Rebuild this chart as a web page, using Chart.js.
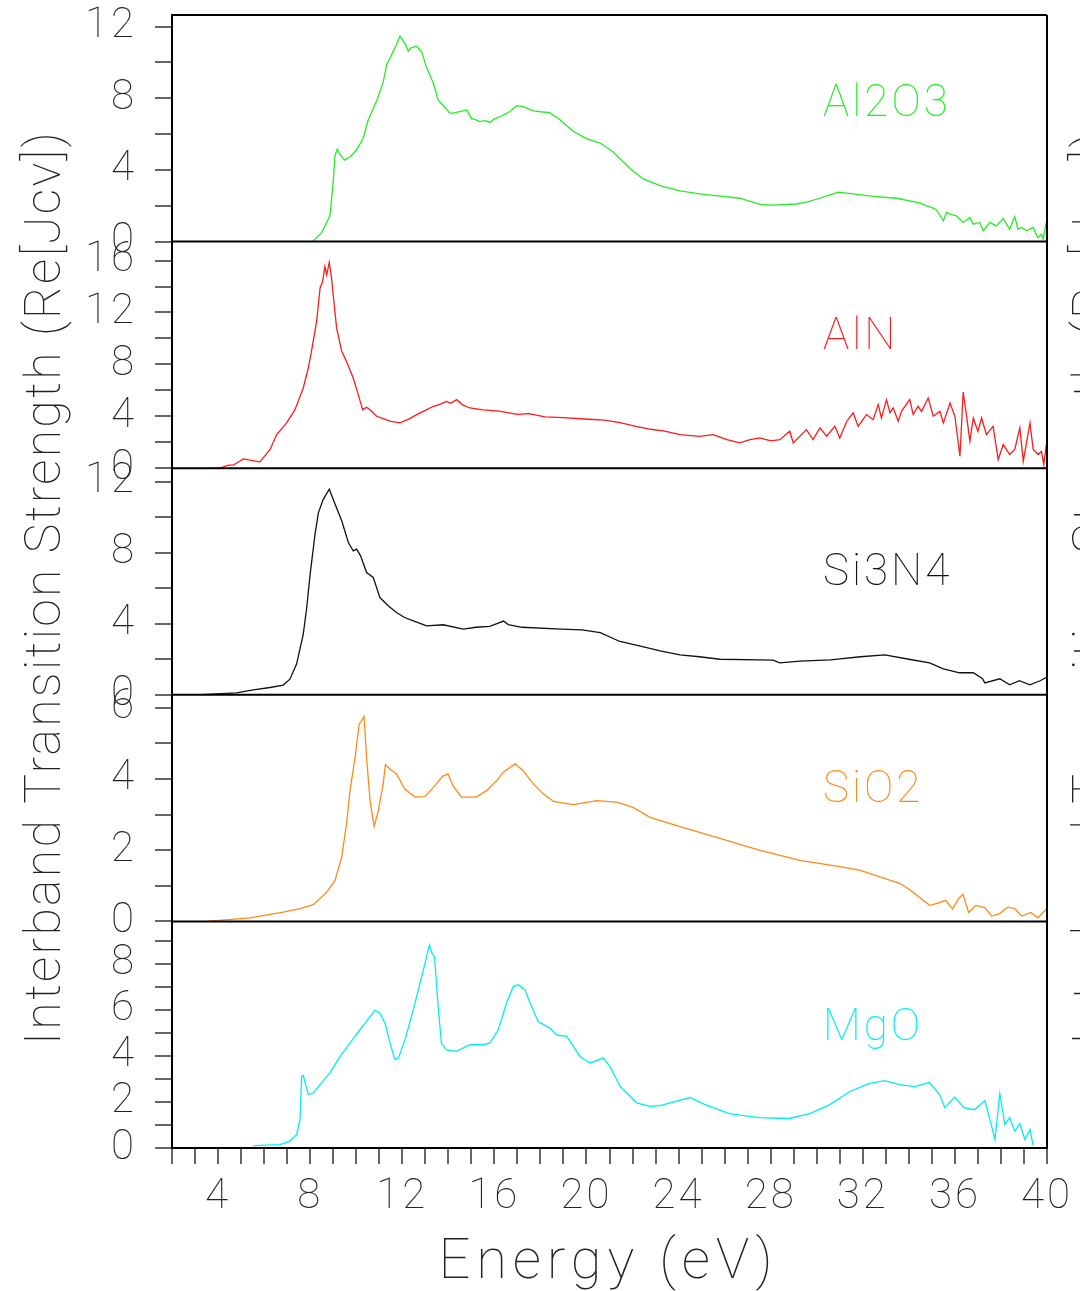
<!DOCTYPE html>
<html>
<head>
<meta charset="utf-8">
<script src="https://cdn.jsdelivr.net/npm/chart.js@4"></script>
<style>
  html, body { margin: 0; padding: 0; background: #fff; }
</style>
</head>
<body>
<canvas id="spectra" width="1080" height="1291"></canvas>
<script>
// Interband transition strength, Re[Jcv], vs photon energy (eV)
// pairs are [energy, strength]
const al2o3 = [[5.3,0],[8.1,0],[8.5,0.5],[8.86,1.46],[9.0,3.3],[9.08,4.8],[9.18,5.16],[9.3,4.85],[9.5,4.55],[9.75,4.75],[10.0,5.1],[10.3,5.75],[10.5,6.7],[10.7,7.3],[10.9,7.9],[11.17,8.9],[11.33,9.9],[11.45,10.2],[11.6,10.6],[11.75,11.0],[11.9,11.47],[12.04,11.2],[12.15,11.0],[12.26,10.63],[12.37,10.8],[12.48,10.85],[12.62,10.9],[12.73,10.75],[12.84,10.6],[13.06,9.7],[13.35,8.85],[13.56,7.9],[13.85,7.5],[14.07,7.16],[14.3,7.2],[14.5,7.26],[14.8,7.35],[15.0,6.88],[15.2,6.8],[15.37,6.7],[15.6,6.75],[15.8,6.65],[16.0,6.85],[16.24,6.97],[16.45,7.1],[16.68,7.26],[16.97,7.59],[17.26,7.54],[17.5,7.4],[17.69,7.3],[18.0,7.25],[18.4,7.2],[18.85,6.8],[19.4,6.17],[20.0,5.75],[20.6,5.5],[21.16,5.0],[21.9,4.07],[22.46,3.5],[23.2,3.13],[24.06,2.83],[25.0,2.65],[25.94,2.53],[26.66,2.42],[27.53,2.08],[28.1,2.04],[29.1,2.1],[29.6,2.22],[30.14,2.42],[30.6,2.62],[30.93,2.76],[31.58,2.66],[32.45,2.53],[33.46,2.42],[34.19,2.23],[34.5,2.15],[34.77,2.0],[35.0,1.9],[35.2,1.78],[35.5,1.16],[35.64,1.63],[35.85,1.5],[36.07,1.44],[36.36,1.07],[36.65,1.35],[36.8,0.97],[37.08,1.07],[37.23,0.6],[37.52,1.07],[37.8,0.88],[38.1,1.29],[38.38,0.69],[38.6,1.4],[38.74,0.69],[38.9,0.8],[39.1,0.6],[39.4,0.79],[39.6,0.22],[39.76,0.41],[39.83,0.13],[39.97,1.07]];

const aln = [[3.6,0],[4.08,0],[4.45,0.23],[4.66,0.23],[5.1,0.72],[5.39,0.62],[5.82,0.49],[6.26,1.44],[6.55,2.59],[6.98,3.49],[7.34,4.51],[7.7,6.18],[7.92,7.72],[8.07,9.13],[8.28,11.3],[8.43,13.87],[8.54,14.38],[8.64,15.54],[8.72,14.9],[8.83,15.87],[8.93,14.64],[9.0,13.36],[9.15,10.8],[9.37,9.0],[9.58,8.23],[9.87,6.95],[10.09,5.67],[10.28,4.51],[10.45,4.7],[10.6,4.5],[10.89,4.0],[11.2,3.8],[11.47,3.62],[11.9,3.49],[12.3,3.8],[12.63,4.13],[13.0,4.45],[13.35,4.77],[13.6,4.9],[13.92,5.15],[14.1,5.0],[14.36,5.28],[14.6,4.9],[14.94,4.64],[15.5,4.5],[16.2,4.4],[17.0,4.15],[17.5,4.2],[18.2,3.95],[19.0,3.9],[20.1,3.77],[20.8,3.7],[21.5,3.5],[22.2,3.2],[22.8,3.0],[23.4,2.85],[24.06,2.59],[24.9,2.46],[25.5,2.59],[26.1,2.2],[26.66,1.95],[27.1,2.2],[27.53,2.33],[28.0,2.1],[28.4,2.2],[28.83,2.85],[28.98,1.95],[29.55,2.97],[29.84,2.2],[30.14,3.1],[30.43,2.46],[30.79,3.23],[31.0,2.33],[31.3,3.6],[31.58,4.26],[31.8,3.23],[32.16,4.13],[32.45,3.74],[32.67,4.9],[32.81,3.87],[33.03,5.28],[33.18,4.26],[33.32,4.64],[33.54,3.62],[33.68,4.38],[34.04,5.28],[34.19,4.13],[34.4,4.77],[34.55,4.38],[34.84,5.41],[35.06,4.0],[35.35,4.38],[35.5,3.49],[35.79,5.03],[36.0,4.0],[36.22,0.92],[36.36,5.87],[36.5,4.13],[36.65,2.08],[36.8,3.87],[37.0,2.85],[37.16,3.87],[37.37,2.59],[37.66,3.23],[37.88,0.67],[38.1,1.82],[38.38,1.05],[38.6,1.44],[38.82,3.1],[38.97,0.54],[39.26,3.49],[39.4,1.44],[39.62,1.05],[39.76,1.3],[39.86,0.28],[39.97,1.82]];

const si3n4 = [[3.07,0],[4.8,0.11],[5.53,0.28],[6.26,0.41],[6.83,0.55],[7.12,0.88],[7.41,1.73],[7.7,3.4],[7.85,4.9],[8.0,6.79],[8.21,9.03],[8.36,10.25],[8.57,11.0],[8.83,11.57],[9.08,10.73],[9.37,9.79],[9.66,8.57],[9.87,8.1],[10.02,8.2],[10.19,7.82],[10.45,6.88],[10.74,6.6],[11.03,5.47],[11.4,5.0],[11.75,4.63],[12.1,4.35],[12.48,4.16],[13.06,3.88],[13.78,3.94],[14.65,3.7],[15.2,3.8],[15.8,3.85],[16.4,4.15],[16.6,3.95],[17.2,3.8],[18.9,3.7],[19.8,3.65],[20.6,3.5],[21.45,3.0],[22.3,2.75],[23.2,2.47],[24.06,2.25],[24.9,2.14],[25.8,2.0],[27.5,1.97],[28.1,1.95],[28.4,1.8],[29.27,1.9],[30.6,1.97],[31.9,2.14],[32.96,2.25],[34.0,2.0],[34.9,1.8],[35.5,1.46],[36.2,1.24],[36.8,1.24],[37.2,0.9],[37.3,0.67],[37.95,0.9],[38.38,0.56],[38.8,0.79],[39.26,0.56],[39.7,0.79],[40.0,1.0]];

const sio2 = [[3.5,0],[5.39,0.1],[6.83,0.26],[7.56,0.36],[8.14,0.47],[8.72,0.82],[9.08,1.15],[9.37,1.8],[9.58,2.74],[9.73,3.67],[9.95,4.6],[10.13,5.54],[10.2,5.59],[10.34,5.75],[10.45,4.6],[10.6,3.39],[10.78,2.66],[10.96,3.11],[11.17,3.86],[11.27,4.4],[11.46,4.28],[11.75,4.14],[12.1,3.72],[12.55,3.49],[12.98,3.5],[13.42,3.81],[13.75,4.07],[13.99,4.14],[14.2,3.81],[14.57,3.49],[15.22,3.49],[15.66,3.67],[16.1,3.95],[16.39,4.19],[16.9,4.42],[17.25,4.23],[17.69,3.86],[18.12,3.58],[18.56,3.37],[19.43,3.28],[20.44,3.39],[21.31,3.35],[22.03,3.2],[22.76,2.92],[24.06,2.66],[25.8,2.33],[27.5,2.0],[29.27,1.71],[31.0,1.54],[31.9,1.43],[32.7,1.26],[33.6,1.07],[33.9,0.95],[34.26,0.78],[34.6,0.6],[34.9,0.45],[35.2,0.5],[35.6,0.59],[35.9,0.35],[36.2,0.67],[36.35,0.76],[36.6,0.25],[36.9,0.45],[37.3,0.39],[37.6,0.15],[37.95,0.22],[38.3,0.4],[38.6,0.36],[38.9,0.15],[39.3,0.25],[39.6,0.1],[40.0,0.36]];

const mgo = [[5.53,0.1],[6.69,0.15],[7.12,0.3],[7.41,0.58],[7.56,1.23],[7.63,3.11],[7.7,3.14],[7.92,2.32],[8.14,2.39],[8.43,2.75],[8.86,3.26],[9.3,3.97],[9.73,4.55],[10.16,5.13],[10.45,5.49],[10.81,5.97],[11.03,5.85],[11.25,5.42],[11.47,4.55],[11.68,3.83],[11.83,3.9],[12.12,4.7],[12.48,6.0],[12.77,7.15],[12.99,8.02],[13.18,8.81],[13.29,8.45],[13.4,8.3],[13.56,6.14],[13.7,4.55],[13.92,4.26],[14.35,4.19],[14.94,4.48],[15.5,4.48],[15.8,4.55],[16.17,5.13],[16.53,6.29],[16.82,7.0],[17.04,7.08],[17.33,6.86],[17.55,6.29],[17.9,5.49],[18.41,5.2],[18.7,4.91],[19.14,4.84],[19.72,3.97],[20.15,3.69],[20.73,3.9],[21.02,3.54],[21.45,2.68],[22.18,1.96],[22.76,1.81],[23.2,1.84],[24.5,2.19],[25.1,1.9],[26.2,1.49],[27.5,1.32],[28.8,1.28],[29.7,1.49],[30.57,1.88],[31.44,2.45],[32.3,2.8],[32.96,2.92],[33.6,2.75],[34.25,2.66],[34.9,2.84],[35.35,2.3],[35.56,1.75],[35.99,2.2],[36.4,1.75],[36.85,1.66],[37.3,2.05],[37.52,1.23],[37.74,0.37],[37.95,2.36],[38.17,1.02],[38.38,1.32],[38.6,0.72],[38.82,1.06],[39.04,0.37],[39.26,0.8],[39.4,0.1]];

const materials = ['Al2O3', 'AlN', 'Si3N4', 'SiO2', 'MgO'];
const curves = [al2o3, aln, si3n4, sio2, mgo];
const lineColors = ['#22ee22', '#ff1a1a', '#111111', '#ff8a1a', '#00eeee'];
const panelMax = [12.65, 17.46, 12.75, 6.36, 9.83];
const tickStep = [2, 2, 2, 1, 1];
const labelEvery = [4, 4, 4, 2, 2];
// where each material name sits, in (eV, strength) of its own panel
const nameEnergy = 30.27;
const nameLevel = [7.0, 9.2, 6.2, 3.35, 4.7];

const energyMin = 2, energyMax = 40, energyLabelEvery = 4;
const xTitle = 'Energy (eV)';
const yTitle = 'Interband Transition Strength (Re[Jcv])';

const FONT = 'Roboto, "DejaVu Sans", sans-serif';
const WEIGHT = 100;
const TEXT = '#222';

const panelIds = materials.map((m, i) => 'p' + i);

const datasets = curves.map((pts, i) => ({
  label: materials[i],
  data: pts.map(p => ({ x: p[0], y: p[1] })),
  xAxisID: 'x',
  yAxisID: panelIds[i],
  borderColor: lineColors[i],
  borderWidth: 1.3,
  pointRadius: 0,
  tension: 0,
  fill: false
}));

const scales = {
  x: {
    type: 'linear',
    position: 'bottom',
    min: energyMin,
    max: energyMax,
    ticks: {
      stepSize: 1,
      autoSkip: false,
      maxRotation: 0,
      minRotation: 0,
      padding: 8,
      color: TEXT,
      font: { family: FONT, size: 42, weight: WEIGHT },
      callback: v => (v % energyLabelEvery === 0 ? v : '')
    },
    grid: { drawOnChartArea: false, drawTicks: true, tickLength: 16, color: '#666', lineWidth: 2 },
    border: { display: true, color: '#000', width: 2 },
    afterFit: s => { s.height = 143; s.paddingLeft = 0; s.paddingRight = 0; }
  }
};

panelIds.forEach((id, i) => {
  scales[id] = {
    type: 'linear',
    position: 'left',
    stack: 'panels',
    stackWeight: 1,
    weight: panelIds.length - i,
    min: 0,
    max: panelMax[i],
    ticks: {
      stepSize: tickStep[i],
      autoSkip: false,
      includeBounds: false,
      padding: 18,
      color: TEXT,
      font: { family: FONT, size: 42, weight: WEIGHT },
      callback: v => (v % labelEvery[i] === 0 ? v : '')
    },
    grid: { drawOnChartArea: false, drawTicks: true, tickLength: 17, color: '#666', lineWidth: 2 },
    border: { display: true, color: '#000', width: 2 },
    afterFit: s => { s.width = 172; s.paddingTop = 0; s.paddingBottom = 0; }
  };
});

// stretch a string over a given length by spacing its letters
function setSpread(ctx, text, size, span) {
  ctx.font = `${WEIGHT} ${size}px ${FONT}`;
  ctx.letterSpacing = '0px';
  const w = ctx.measureText(text).width;
  ctx.letterSpacing = ((span - w) / text.length) + 'px';
}

const decorations = {
  id: 'decorations',
  beforeDraw(chart) {
    const ctx = chart.ctx;
    ctx.save();
    ctx.fillStyle = '#fff';
    ctx.fillRect(0, 0, chart.width, chart.height);
    ctx.restore();
    ctx.letterSpacing = '3px';
  },
  afterDatasetsDraw(chart) {
    const ctx = chart.ctx;
    const a = chart.chartArea;
    ctx.save();
    // panel frames
    ctx.strokeStyle = '#000';
    ctx.lineWidth = 2;
    ctx.beginPath();
    panelIds.forEach(id => {
      const s = chart.scales[id];
      ctx.moveTo(a.left, s.top);
      ctx.lineTo(a.right, s.top);
    });
    ctx.moveTo(a.left, a.bottom);
    ctx.lineTo(a.right, a.bottom);
    ctx.moveTo(a.right, a.top);
    ctx.lineTo(a.right, a.bottom);
    ctx.stroke();

    // material names
    ctx.font = `${WEIGHT} 44px ${FONT}`;
    ctx.letterSpacing = '3px';
    ctx.textAlign = 'left';
    ctx.textBaseline = 'alphabetic';
    materials.forEach((m, i) => {
      ctx.fillStyle = lineColors[i];
      ctx.fillText(m, chart.scales.x.getPixelForValue(nameEnergy),
        chart.scales[panelIds[i]].getPixelForValue(nameLevel[i]));
    });
    ctx.restore();
  },
  afterDraw(chart) {
    const ctx = chart.ctx;
    const a = chart.chartArea;
    ctx.save();
    ctx.fillStyle = TEXT;
    ctx.textAlign = 'left';
    ctx.textBaseline = 'alphabetic';

    // x title
    const xSpan = 340;
    setSpread(ctx, xTitle, 56, xSpan);
    ctx.fillText(xTitle, (a.left + a.right) / 2 - 1 - xSpan / 2, 1278);

    // y title, plus the cut-off edge of the neighbouring figure's copy
    const ySpan = 915;
    setSpread(ctx, yTitle, 50, ySpan);
    [60, 1108].forEach(bx => {
      ctx.save();
      ctx.translate(bx, (a.top + a.bottom) / 2 + 6);
      ctx.rotate(-Math.PI / 2);
      ctx.fillText(yTitle, -ySpan / 2, 0);
      ctx.restore();
    });
    ctx.restore();
    ctx.letterSpacing = '0px';
  }
};

new Chart(document.getElementById('spectra'), {
  type: 'line',
  data: { datasets },
  options: {
    responsive: false,
    animation: false,
    devicePixelRatio: 1,
    layout: { padding: { top: 15, right: 33, left: 0, bottom: 0 } },
    plugins: { legend: { display: false }, tooltip: { enabled: false } },
    scales
  },
  plugins: [decorations]
});
</script>
</body>
</html>
